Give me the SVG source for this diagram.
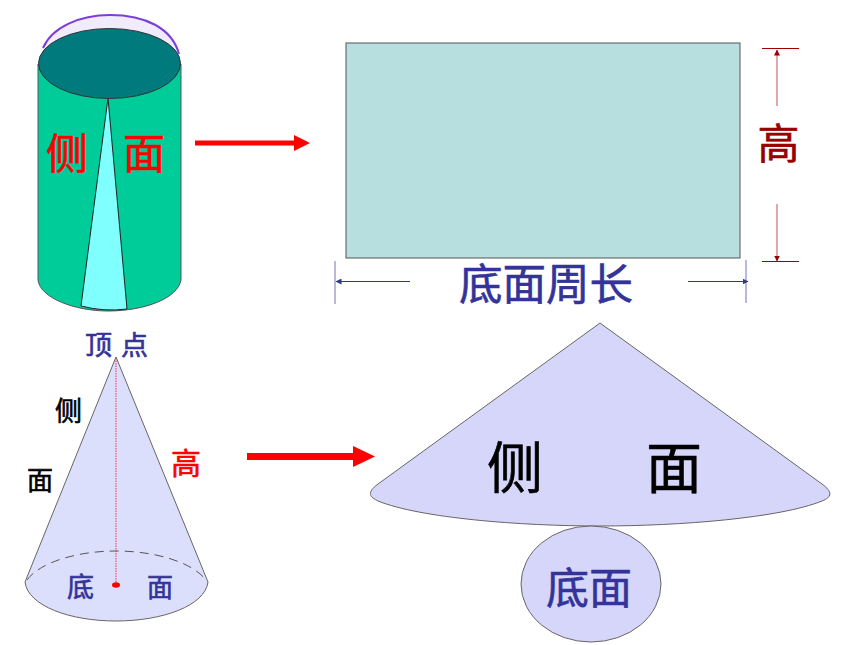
<svg xmlns="http://www.w3.org/2000/svg" width="860" height="645" viewBox="0 0 860 645">
<style>
text{font-family:"Noto Sans CJK SC","Liberation Serif",serif;font-weight:400;stroke-width:.6}
.blue{fill:#333399;stroke:#333399}.red{fill:#ff0000;stroke:#ff0000}.blk{fill:#000;stroke:#000}.dred{fill:#990000;stroke:#990000}
.shape{stroke:#666;stroke-width:1}
.lav{fill:#d6d6fb}
.blueline{stroke:#333399;stroke-width:1;fill:none}
.tick{stroke:#8a8ac8;stroke-width:1.2}
.dline{stroke:#d88a8a;stroke-width:1.5}
.dtick{stroke:#990000;stroke-width:1}
</style>
<defs>
<marker id="bh" markerWidth="6" markerHeight="6" refX="5.5" refY="3" orient="auto" markerUnits="userSpaceOnUse"><path d="M0 0L6 3L0 6z" fill="#333399"/></marker>
<marker id="rh" markerWidth="6" markerHeight="6" refX="5.5" refY="3" orient="auto" markerUnits="userSpaceOnUse"><path d="M0 0L6 3L0 6z" fill="#990000"/></marker>
</defs>
<g id="cylinder">
<path d="M43 48C52 27 80 15 110 15C145 15 172 28 179 52L179 70L43 70z" fill="#f1ebfd" stroke="none"/>
<path d="M43 48C52 27 80 15 110 15C145 15 172 28 179 54" fill="none" stroke="#7b3fd8" stroke-width="2"/>
<path d="M38 64V280C40 298 75 311 108 311C145 311 178 298 181 280V64z" fill="#00cc99" stroke="#555" stroke-width="1"/>
<path d="M108 98L81 306Q104 312 127 309z" fill="#80ffff" stroke="#222" stroke-width="1"/>
<ellipse cx="109.5" cy="63.500" rx="71" ry="35" fill="#007a7c" stroke="#333" stroke-width="1"/>
<text x="46" y="169" font-size="42" class="red">侧</text>
<text x="123" y="169" font-size="42" class="red">面</text>
</g>
<g id="rectangle">
<rect x="346" y="43" width="394" height="215" fill="#b8dfe0" stroke="#555" stroke-width="1"/>
</g>
<g id="height-label"><text x="757.500" y="159" font-size="42" class="dred">高</text></g>
<g id="perimeter-label"><text x="459" y="300" font-size="43.500" class="blue">底面周长</text></g>
<g id="cone">
<path d="M116 357L25 582C28 606 70 621 116 621C162 621 205 606 208 582z" class="lav shape" style="fill:#dcdffb"/>
<path d="M27 580C40 562 78 551 116 551C155 551 192 562 206 580" fill="none" stroke="#555" stroke-width="1" stroke-dasharray="9 6"/>
<line x1="116" y1="358" x2="116" y2="584" stroke="#ee3355" stroke-width="1" stroke-dasharray="1.500 1"/>
<ellipse cx="116" cy="585" rx="4" ry="2.700" fill="#ff0000"/>
<text x="85" y="355" font-size="27" class="blue">顶</text>
<text x="121" y="355" font-size="27" class="blue">点</text>
<text x="55" y="421" font-size="27" class="blk">侧</text>
<text x="27" y="490" font-size="26" class="blk">面</text>
<text x="171" y="474" font-size="30" class="red">高</text>
<text x="67" y="597" font-size="27" class="blue">底</text>
<text x="147" y="597" font-size="26" class="blue">面</text>
</g>
<g id="sector">
<path d="M600 323L378 484C366 493 370 497 378 501C420 518 520 526 600 526C680 526 780 518 822 501C832 497 833 492 822 484z" class="lav shape"/>
<text x="487" y="488" font-size="56" class="blk">侧</text>
<text x="646" y="488" font-size="56" class="blk">面</text>
</g>
<g id="base-circle">
<ellipse cx="591" cy="584" rx="70" ry="58" class="lav shape"/>
<text x="546" y="604" font-size="43" class="blue">底面</text>
</g>
<g id="connectors">
<path d="M195 143H295" stroke="#f00" stroke-width="5" fill="none"/>
<path d="M294 135L310 143L294 151z" fill="#f00"/>
<path d="M247 456.500H355" stroke="#f00" stroke-width="7" fill="none"/>
<path d="M353 446L375 456.500L353 467z" fill="#f00"/>
<line x1="335" y1="261" x2="335" y2="304" class="tick"/>
<line x1="746" y1="260" x2="746" y2="303" class="tick"/>
<line x1="410" y1="281.500" x2="336" y2="281.500" class="blueline" marker-end="url(#bh)"/>
<line x1="688" y1="281.500" x2="748" y2="281.500" class="blueline" marker-end="url(#bh)"/>
<line x1="762" y1="48.500" x2="799" y2="48.500" class="dtick"/>
<line x1="762" y1="261.500" x2="799" y2="261.500" class="dtick"/>
<line x1="777" y1="106" x2="777" y2="50" class="dline" marker-end="url(#rh)"/>
<line x1="777" y1="204" x2="777" y2="261" class="dline" marker-end="url(#rh)"/>
</g>
</svg>
